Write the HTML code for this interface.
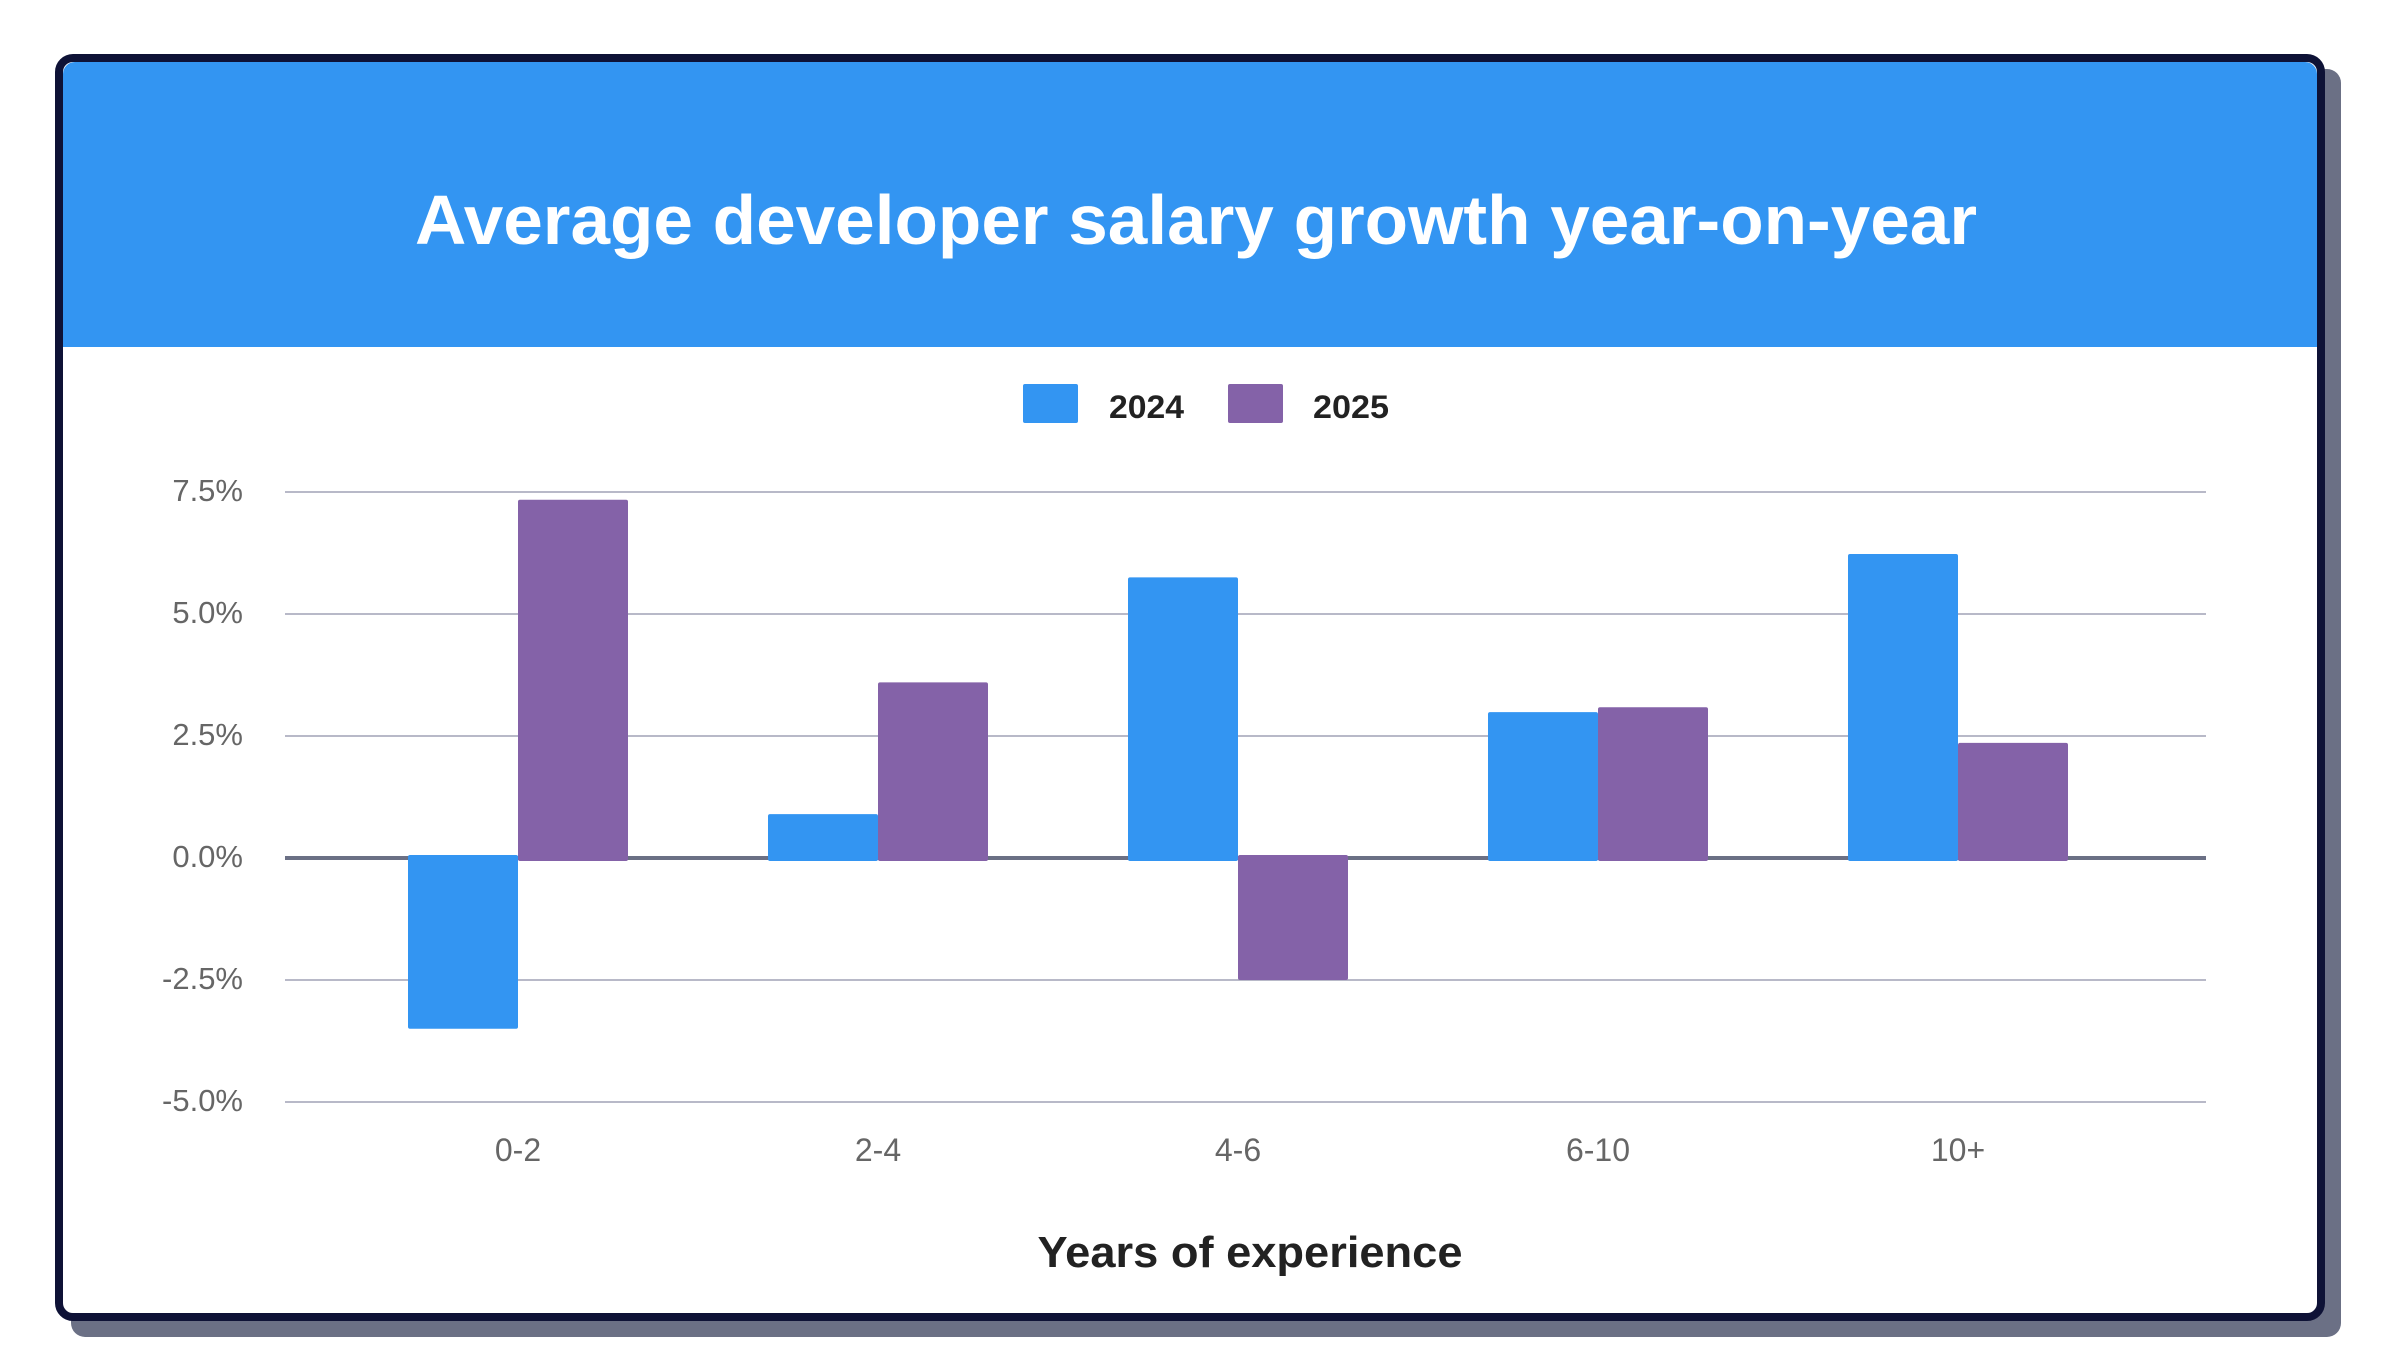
<!DOCTYPE html>
<html><head><meta charset="utf-8"><style>
html,body{margin:0;padding:0;background:#fff;}
svg{display:block;font-family:"Liberation Sans",sans-serif;}
</style></head><body>
<svg id="chart" width="2395" height="1371" viewBox="0 0 2395 1371">
  <rect x="71" y="69" width="2270" height="1268" rx="14" fill="#6b7085"/>
  <rect x="59" y="58" width="2262" height="1259" rx="14" fill="#fff" stroke="#0e1236" stroke-width="8"/>
  <path d="M63 347 V74 a12 12 0 0 1 12 -12 H2305 a12 12 0 0 1 12 12 V347 Z" fill="#3395f2"/>
  <text x="1196" y="244" text-anchor="middle" font-size="70" font-weight="bold" fill="#fff" textLength="1562" lengthAdjust="spacingAndGlyphs">Average developer salary growth year-on-year</text>
  <g>
    <rect x="1023" y="384" width="55" height="39" rx="2" fill="#3395f2"/>
    <text x="1109" y="418" font-size="32" font-weight="bold" fill="#222" textLength="75" lengthAdjust="spacingAndGlyphs">2024</text>
    <rect x="1228" y="384" width="55" height="39" rx="2" fill="#8462a8"/>
    <text x="1313" y="418" font-size="32" font-weight="bold" fill="#222" textLength="76" lengthAdjust="spacingAndGlyphs">2025</text>
  </g>
  <g id="grid"></g>
  <g id="bars"></g>
  <g id="xlabels"></g>
  <text x="1250" y="1267" text-anchor="middle" font-size="44" font-weight="bold" fill="#222" textLength="425" lengthAdjust="spacingAndGlyphs">Years of experience</text>
</svg>
<script>
const categories = ["0-2","2-4","4-6","6-10","10+"];
const series2024 = [-3.5, 0.9, 5.75, 2.99, 6.23];
const series2025 = [7.34, 3.6, -2.5, 3.09, 2.36];
const yTicks = [7.5, 5.0, 2.5, 0.0, -2.5, -5.0];
const yTickLabels = ["7.5%","5.0%","2.5%","0.0%","-2.5%","-5.0%"];

const NS = "http://www.w3.org/2000/svg";
const plotLeft = 285, plotRight = 2206;
function yScale(v){ return 858 - v * 48.8; }
function xCenter(i){ return 518 + i * 360; }
const barW = 110;
function mk(tag, attrs, parent){
  const e = document.createElementNS(NS, tag);
  for (const k in attrs) e.setAttribute(k, attrs[k]);
  parent.appendChild(e);
  return e;
}
const grid = document.getElementById('grid');
yTicks.forEach((t, i) => {
  const y = yScale(t);
  const ln = mk('line', {x1: plotLeft, x2: plotRight, y1: y, y2: y, stroke: t === 0 ? '#6b7085' : '#b8b9c8', 'stroke-width': t === 0 ? 4 : 2}, grid);
  
  
  const tx = mk('text', {x: 243, y: y + 9, 'text-anchor': 'end', 'font-size': 31, fill: '#666'}, grid);
  tx.textContent = yTickLabels[i];
  
  
});
const bars = document.getElementById('bars');
function drawBar(v, x, color){
  const y0 = yScale(0), y1 = yScale(v);
  const top = Math.min(y0, y1) - (v < 0 ? 3 : 0);
  const h = Math.abs(y1 - y0) + 3;
  const r = mk('rect', {x: x, y: top, width: barW, height: h, rx: 2, fill: color}, bars);
  return r;
}
categories.forEach((c, i) => {
  const cx = xCenter(i);
  const b1 = drawBar(series2024[i], cx - barW, '#3395f2');
  
  
  const b2 = drawBar(series2025[i], cx, '#8462a8');
  
  
  const tx = mk('text', {x: cx, y: 1161, 'text-anchor': 'middle', 'font-size': 32, fill: '#666'}, document.getElementById('xlabels'));
  tx.textContent = c;
  
  
});
</script>
</body></html>
